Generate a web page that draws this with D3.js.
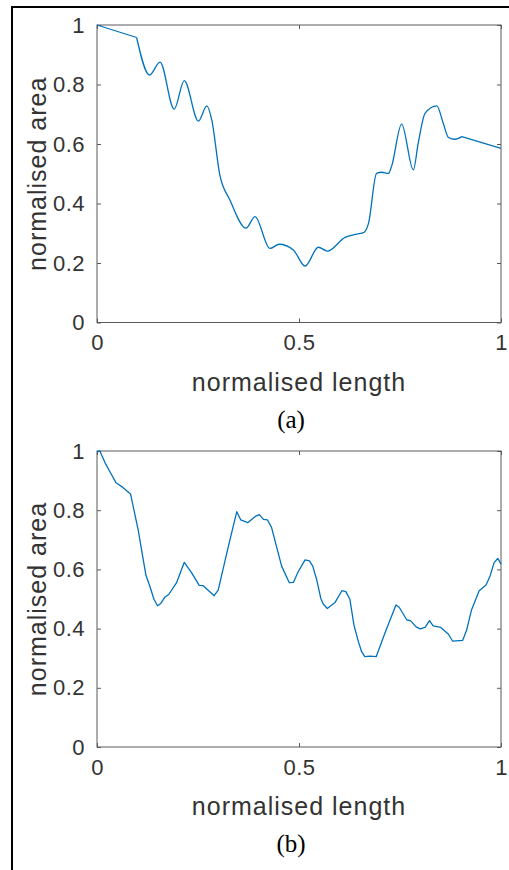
<!DOCTYPE html>
<html>
<head>
<meta charset="utf-8">
<script src="https://cdn.jsdelivr.net/npm/d3@7"></script>
<style>
  body { margin: 0; background: #fff; }
  svg { display: block; }
  .tick text { font-family: "Liberation Sans", Arial, sans-serif; fill: #333; }
</style>
</head>
<body>
<script>
// panel (a): normalised length / area
var lenA = [0, 0.098, 0.130, 0.156, 0.191, 0.216, 0.251, 0.272, 0.284, 0.304, 0.329, 0.369, 0.391,
  0.428, 0.451, 0.486, 0.515, 0.548, 0.570, 0.614, 0.643, 0.661, 0.672, 0.692, 0.705, 0.721, 0.729,
  0.754, 0.783, 0.795, 0.812, 0.841, 0.857, 0.870, 0.886, 0.903, 1.0];
var areaA = [1.0, 0.958, 0.832, 0.875, 0.717, 0.813, 0.677, 0.728, 0.681, 0.496, 0.412, 0.317, 0.356,
  0.249, 0.263, 0.244, 0.190, 0.253, 0.240, 0.286, 0.297, 0.303, 0.333, 0.501, 0.505, 0.501, 0.524,
  0.667, 0.513, 0.602, 0.703, 0.728, 0.670, 0.622, 0.616, 0.625, 0.585];

// panel (b)
var lenB = [0, 0.007, 0.020, 0.032, 0.047, 0.064, 0.083, 0.102, 0.121, 0.131, 0.141, 0.150, 0.158,
  0.168, 0.178, 0.197, 0.216, 0.234, 0.253, 0.263, 0.290, 0.300, 0.325, 0.346, 0.356, 0.373, 0.391,
  0.402, 0.412, 0.422, 0.432, 0.457, 0.476, 0.486, 0.498, 0.515, 0.526, 0.534, 0.544, 0.554, 0.560,
  0.570, 0.589, 0.606, 0.616, 0.626, 0.636, 0.647, 0.655, 0.663, 0.676, 0.691, 0.713, 0.740, 0.748,
  0.767, 0.776, 0.790, 0.800, 0.812, 0.823, 0.832, 0.851, 0.870, 0.880, 0.905, 0.915, 0.927, 0.946,
  0.963, 0.973, 0.983, 0.992, 1.0];
var areaB = [0.998, 1.0, 0.96, 0.93, 0.893, 0.877, 0.855, 0.733, 0.581, 0.542, 0.499, 0.477, 0.485,
  0.506, 0.516, 0.555, 0.624, 0.589, 0.546, 0.545, 0.511, 0.530, 0.677, 0.795, 0.767, 0.758, 0.778,
  0.785, 0.769, 0.767, 0.742, 0.611, 0.555, 0.556, 0.592, 0.632, 0.629, 0.611, 0.564, 0.502, 0.483,
  0.468, 0.488, 0.528, 0.525, 0.499, 0.412, 0.356, 0.322, 0.305, 0.307, 0.305, 0.386, 0.480, 0.472,
  0.429, 0.427, 0.406, 0.399, 0.404, 0.427, 0.409, 0.404, 0.381, 0.358, 0.360, 0.395, 0.463, 0.528,
  0.547, 0.578, 0.623, 0.637, 0.618];

var xTicks = [0, 0.5, 1];
var yTicks = [0, 0.2, 0.4, 0.6, 0.8, 1];

var W = 509, H = 870;
var svg = d3.select("body").append("svg")
  .attr("width", W)
  .attr("height", H);

// page frame (top and left edge)
svg.append("path")
  .attr("d", "M12,870 L12,7 L509,7")
  .attr("fill", "none")
  .attr("stroke", "#000")
  .attr("stroke-width", 2);

function panel(xs, ys, top, bottom, caption, smooth) {
  var left = 97, right = 501;
  var x = d3.scaleLinear().domain([0, 1]).range([left, right]);
  var y = d3.scaleLinear().domain([0, 1]).range([bottom, top]);
  var g = svg.append("g");

  // box
  g.append("rect")
    .attr("x", left).attr("y", top)
    .attr("width", right - left).attr("height", bottom - top)
    .attr("fill", "none").attr("stroke", "#5a5a5a").attr("stroke-width", 1);

  var xAxis = g.append("g")
    .attr("transform", "translate(0," + bottom + ")")
    .call(d3.axisBottom(x).tickValues(xTicks).tickSize(-4).tickPadding(12).tickFormat(d3.format("")));
  var xTop = g.append("g")
    .attr("transform", "translate(0," + top + ")")
    .call(d3.axisTop(x).tickValues(xTicks).tickSize(-4).tickFormat(""));
  var yAxis = g.append("g")
    .attr("transform", "translate(" + left + ",0)")
    .call(d3.axisLeft(y).tickValues(yTicks).tickSize(-4).tickPadding(12).tickFormat(d3.format("")));
  var yRight = g.append("g")
    .attr("transform", "translate(" + right + ",0)")
    .call(d3.axisRight(y).tickValues(yTicks).tickSize(-4).tickFormat(""));

  [xAxis, xTop, yAxis, yRight].forEach(function(a) {
    a.select(".domain").remove();
    a.selectAll(".tick line").attr("stroke", "#5a5a5a");
    a.selectAll(".tick text").style("font-size", "22px").style("letter-spacing", "0.5px");
  });

  var data = xs.map(function(d, i) { return [d, ys[i]]; });
  var lin = d3.line()
    .x(function(d) { return x(d[0]); })
    .y(function(d) { return y(d[1]); });
  var parts;
  if (smooth) {
    // straight run at both ends, smooth wiggles in between
    var n = data.length;
    parts = [
      lin.curve(d3.curveLinear)(data.slice(0, 2)),
      lin.curve(d3.curveMonotoneX)(data.slice(1, n - 1)),
      lin.curve(d3.curveLinear)(data.slice(n - 2))
    ];
  } else {
    parts = [lin.curve(d3.curveLinear)(data)];
  }
  g.selectAll(".series")
    .data(parts)
    .enter().append("path")
      .attr("class", "series")
      .attr("fill", "none")
      .attr("stroke", "#0072BD")
      .attr("stroke-width", 1.3)
      .attr("stroke-linejoin", "round")
      .attr("d", function(d) { return d; });

  g.append("text")
    .attr("text-anchor", "middle")
    .attr("x", (left + right) / 2)
    .attr("y", bottom + 68)
    .style("font-family", "'Liberation Sans', Arial, sans-serif")
    .style("font-size", "25px")
    .style("letter-spacing", "1px")
    .attr("fill", "#333")
    .text("normalised length");

  g.append("text")
    .attr("text-anchor", "middle")
    .attr("transform", "translate(46," + ((top + bottom) / 2) + ")rotate(-90)")
    .style("font-family", "'Liberation Sans', Arial, sans-serif")
    .style("font-size", "25px")
    .style("letter-spacing", "1px")
    .attr("fill", "#333")
    .text("normalised area");

  g.append("text")
    .attr("text-anchor", "middle")
    .attr("x", 291)
    .attr("y", bottom + 105)
    .style("font-family", "'Liberation Serif', 'Times New Roman', serif")
    .style("font-size", "25px")
    .attr("fill", "#000")
    .text(caption);
}

panel(lenA, areaA, 25, 322.5, "(a)", true);
panel(lenB, areaB, 451, 747, "(b)", false);
</script>
</body>
</html>
